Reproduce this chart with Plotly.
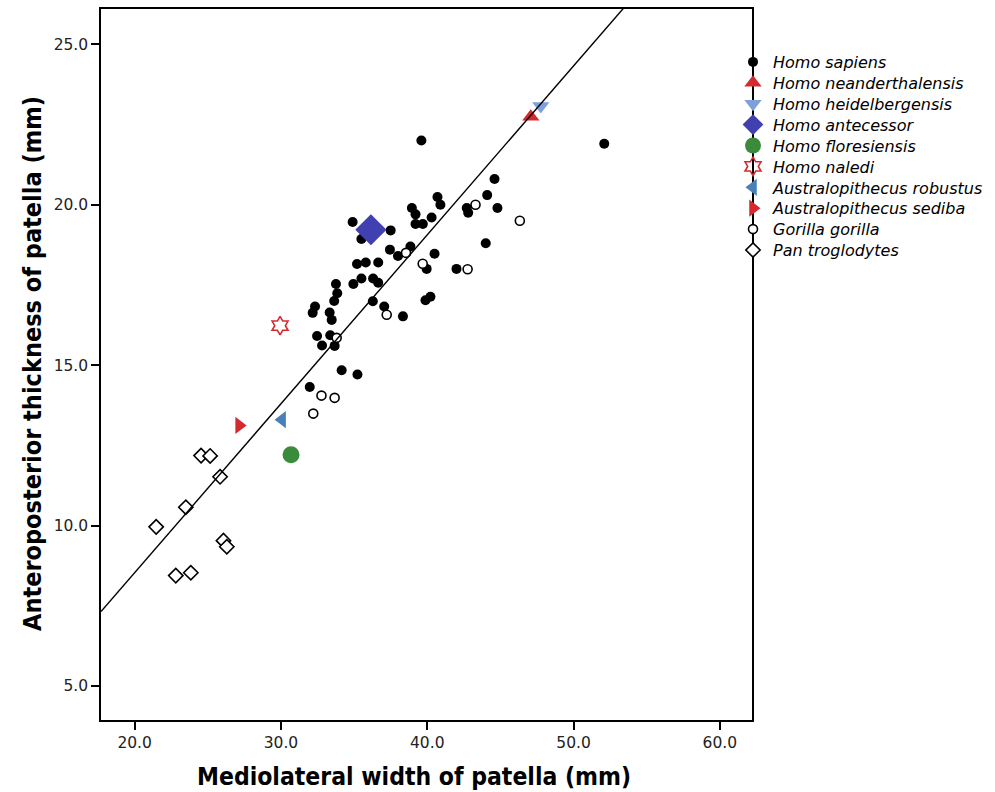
import plotly.graph_objects as go

# Patella dimensions (mm): mediolateral width (x) vs anteroposterior thickness (y)
sapiens_x = [39.6, 52.1, 44.6, 44.1, 44.8, 40.7, 40.9, 42.7, 42.8, 38.95, 39.2, 40.3, 39.2, 39.7,
             34.9, 37.5, 35.5, 44.0, 37.45, 38.0, 38.85, 40.5, 39.96, 42.0, 35.2, 35.8, 36.65,
             35.5, 36.3, 36.65, 34.95, 33.76, 33.85, 33.64, 36.28, 37.06, 38.34, 39.88, 40.22,
             32.33, 32.17, 33.33, 33.47, 32.47, 33.37, 32.81, 33.67, 34.15, 35.23, 31.97]
sapiens_y = [22.0, 21.9, 20.8, 20.3, 19.9, 20.24, 20.0, 19.9, 19.75, 19.9, 19.7, 19.6, 19.4, 19.4,
             19.46, 19.2, 18.93, 18.8, 18.6, 18.4, 18.7, 18.47, 18.0, 18.0, 18.15, 18.2, 18.2,
             17.7, 17.7, 17.57, 17.53, 17.53, 17.24, 17.0, 16.99, 16.83, 16.52, 17.02, 17.13,
             16.83, 16.63, 16.64, 16.41, 15.91, 15.93, 15.61, 15.6, 14.84, 14.71, 14.32]

gorilla_x = [43.3, 46.33, 42.76, 39.69, 38.55, 37.23, 33.81, 32.77, 33.67, 32.21]
gorilla_y = [20.0, 19.5, 17.99, 18.16, 18.5, 16.57, 15.85, 14.05, 13.98, 13.49]

pan_x = [24.54, 25.16, 25.84, 23.5, 21.47, 26.07, 26.3, 22.81, 23.84]
pan_y = [12.18, 12.17, 11.52, 10.57, 9.96, 9.53, 9.34, 8.44, 8.53]

# Single fossil specimens
fossil_names = ["Homo neanderthalensis", "Homo heidelbergensis", "Homo antecessor",
                "Homo floresiensis", "Homo naledi", "Australopithecus robustus",
                "Australopithecus sediba"]
fossil_x = [47.08, 47.76, 36.15, 30.69, 29.94, 30.08, 27.14]
fossil_y = [22.74, 23.08, 19.22, 12.21, 16.23, 13.3, 13.12]

# Least-squares fit line
fit_slope = 0.5265
fit_intercept = -2.0

x_range = [17.7, 62.2]
y_range = [3.94, 26.1]
x_ticks = [20.0, 30.0, 40.0, 50.0, 60.0]
y_ticks = [5.0, 10.0, 15.0, 20.0, 25.0]

x_title = "Mediolateral width of patella (mm)"
y_title = "Anteroposterior thickness of patella (mm)"

fossil_style = {
    "Homo neanderthalensis": dict(symbol="triangle-up", color="#d42a2f", size=15),
    "Homo heidelbergensis": dict(symbol="triangle-down", color="#7fa0dc", size=15),
    "Homo antecessor": dict(symbol="diamond", color="#4040b0", size=24),
    "Homo floresiensis": dict(symbol="circle", color="#3a8c3c", size=17),
    "Homo naledi": dict(symbol="hexagram-open", color="#d42a2f", size=14),
    "Australopithecus robustus": dict(symbol="triangle-left", color="#4a80b8", size=15),
    "Australopithecus sediba": dict(symbol="triangle-right", color="#d42a2f", size=15),
}

# Plot-area geometry in pixels (used to place legend rows and axis titles)
W, H = 995, 792
M_L, M_R, M_T, M_B = 101, 243, 9, 72
PW, PH = W - M_L - M_R, H - M_T - M_B

fig = go.Figure()

traces = []
traces.append(go.Scatter(
    x=sapiens_x, y=sapiens_y, mode="markers", name="Homo sapiens",
    marker=dict(symbol="circle", size=10, color="black"),
))
for name, fx, fy in zip(fossil_names, fossil_x, fossil_y):
    st = fossil_style[name]
    line_w = 1.6 if st["symbol"].endswith("open") else 0
    traces.append(go.Scatter(
        x=[fx], y=[fy], mode="markers", name=name,
        marker=dict(symbol=st["symbol"], size=st["size"], color=st["color"],
                    line=dict(width=line_w, color=st["color"])),
    ))
traces.append(go.Scatter(
    x=gorilla_x, y=gorilla_y, mode="markers", name="Gorilla gorilla",
    marker=dict(symbol="circle", size=9, color="white", line=dict(width=1.6, color="black")),
))
traces.append(go.Scatter(
    x=pan_x, y=pan_y, mode="markers", name="Pan troglodytes",
    marker=dict(symbol="diamond", size=11, color="white", line=dict(width=1.6, color="black")),
))

# One single-row legend per species so rows can be spaced tightly with a larger font
legend_layout = {}
row0, row_step = 62.0, 20.9
legend_left_px = 733
for i, tr in enumerate(traces):
    key = "legend" if i == 0 else f"legend{i + 1}"
    tr.legend = key
    fig.add_trace(tr)
    cy = row0 + i * row_step
    legend_layout[key] = dict(
        x=(legend_left_px - M_L) / PW, y=1 - (cy - M_T) / PH,
        xanchor="left", yanchor="middle",
        font=dict(family="DejaVu Sans", size=16, color="black", style="italic"),
        bgcolor="rgba(0,0,0,0)", borderwidth=0, itemsizing="trace",
    )

fit_x = x_range
fit_y = [fit_slope * v + fit_intercept for v in fit_x]
fig.add_trace(go.Scatter(
    x=fit_x, y=fit_y, mode="lines", showlegend=False, hoverinfo="skip",
    line=dict(color="black", width=1.4),
))

tick_font = dict(family="DejaVu Sans", size=15.5, color="#222222")
title_family = "DejaVu Sans Condensed, Liberation Sans Narrow, DejaVu Sans"
x_title_font = dict(family=title_family, size=24.5, color="black", weight="bold")
y_title_font = dict(family=title_family, size=25, color="black", weight="bold")

axis_common = dict(
    showgrid=False, zeroline=False, showline=True, linecolor="black", linewidth=1.5,
    mirror=True, ticks="outside", ticklen=8, tickwidth=1.5, tickcolor="black",
    tickfont=tick_font,
)

fig.update_layout(
    width=W, height=H,
    margin=dict(l=M_L, r=M_R, t=M_T, b=M_B, autoexpand=False),
    paper_bgcolor="white", plot_bgcolor="white",
    font=dict(family="DejaVu Sans", color="black"),
    showlegend=True,
    xaxis=dict(range=x_range, tickvals=x_ticks,
               ticktext=[f"{v:.1f}" for v in x_ticks], **axis_common),
    yaxis=dict(range=y_range, tickvals=y_ticks,
               ticktext=[f"{v:.1f}" for v in y_ticks], **axis_common),
    annotations=[
        dict(text=x_title, xref="paper", yref="paper",
             x=(414 - M_L) / PW, y=-(777 - (M_T + PH)) / PH,
             xanchor="center", yanchor="middle", showarrow=False, font=x_title_font),
        dict(text=y_title, xref="paper", yref="paper",
             x=-(M_L - 32) / PW, y=1 - (364 - M_T) / PH, textangle=-90,
             xanchor="center", yanchor="middle", showarrow=False, font=y_title_font),
    ],
    **legend_layout,
)

fig.write_html("out.html")
